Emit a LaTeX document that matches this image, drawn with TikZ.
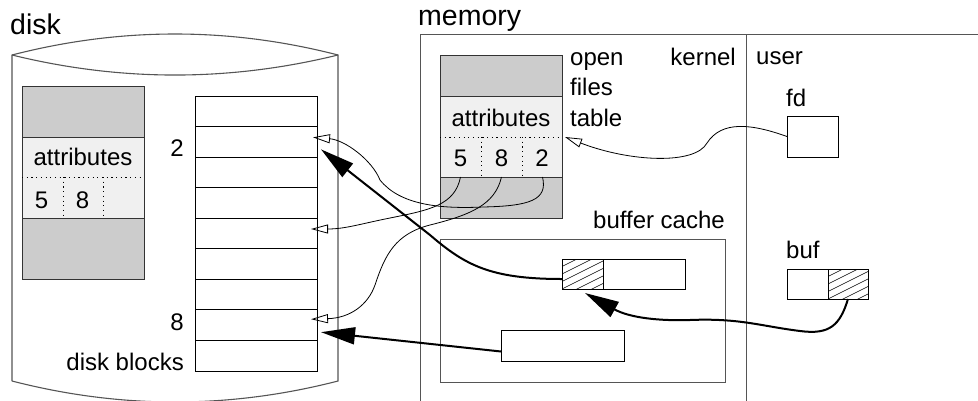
\documentclass[tikz,border=0pt]{standalone}
\usepackage{fontspec}
\setmainfont{Liberation Sans}
\usetikzlibrary{arrows.meta,calc}
\definecolor{shade}{HTML}{CCCCCC}
\definecolor{light}{HTML}{F0F0F0}
\definecolor{frame}{HTML}{555555}
\newcommand{\hatchit}[4]{%
  \begin{scope}
    \clip (#1,#2) rectangle (#3,#4);
    \foreach \c in {0,7.5,...,75}
      \draw[line width=0.6pt] (#1,#2+\c) -- ++(60,-30);
  \end{scope}}
\begin{document}
\begin{tikzpicture}[x=1pt,y=-1pt,
  box/.style={draw, line width=0.9pt, inner sep=0pt, outer sep=0pt, anchor=north west},
  cell/.style={inner sep=0pt, outer sep=0pt, anchor=north west},
  txt/.style={inner sep=0pt, font=\fontsize{24}{28}\selectfont},
  bigtxt/.style={inner sep=0pt, font=\fontsize{28.5}{32}\selectfont},
  thinarrow/.style={line width=0.8pt, -{Triangle[open,length=17pt,width=9pt]}},
  thickarrow/.style={line width=2pt, -{Triangle[length=34pt,width=17pt]}},
  dots/.style={line width=0.9pt, dash pattern=on 1.2pt off 3.5pt}
]
\useasboundingbox (0,0) rectangle (978,400);

% ---------- disk cylinder ----------
\draw[frame, line width=1.1pt]
  (12,381) -- (12,55) .. controls (120.7,27) and (229.3,27) .. (338,55) -- (338,381)
  .. controls (229.3,409) and (120.7,409) .. (12,381);
\draw[frame, line width=1.1pt] (12,55) .. controls (120.7,81.7) and (229.3,81.7) .. (338,55);
\node[bigtxt, anchor=base west] (disklbl) at (10,34) {disk};

% inode on disk
\node[box, draw=black!80, fill=shade, minimum width=122pt, minimum height=51pt] (ia) at (22,86) {};
\node[box, draw=black!80, fill=light, minimum width=122pt, minimum height=81pt] (ib) at (22,137) {};
\node[box, draw=black!80, fill=shade, minimum width=122pt, minimum height=61pt] (ic) at (22,218) {};
\draw[dots] (ib.west |- 0,177) -- (ib.east |- 0,177);
\draw[dots] (63,177) -- (63,218);
\draw[dots] (103,177) -- (103,218);
\node[txt, anchor=base] (iattr) at (83,165.7) {attributes};
\node[txt, anchor=base] (i5) at (41.5,208) {5};
\node[txt, anchor=base] (i8) at (82.5,208) {8};

% disk blocks
\foreach \i in {1,...,9}
  \node[box, minimum width=122pt, minimum height=30.556pt] (blk\i) at (195,{96+(\i-1)*30.556}) {};
\node[txt, anchor=base east] (b2lbl) at (184,156.7) {2};
\node[txt, anchor=base east] (b8lbl) at (184,330.7) {8};
\node[txt, anchor=base east] (blkslbl) at (184,370.7) {disk blocks};

% ---------- memory ----------
\node[box, draw=frame, minimum width=600pt, minimum height=400pt] (mem) at (420,34) {};
\draw[frame, line width=0.9pt] (746,34) -- (746,420);
\node[bigtxt, anchor=base west] (memlbl) at (418,25.5) {memory};
\node[txt, anchor=base west] (openlbl) at (570,65) {open};
\node[txt, anchor=base west] (fileslbl) at (570,95) {files};
\node[txt, anchor=base west] (tablelbl) at (570,126) {table};
\node[txt, anchor=base east] (kernlbl) at (736,65) {kernel};
\node[txt, anchor=base west] (userlbl) at (756,64) {user};

% open files table
\node[box, draw=black!80, fill=shade, minimum width=122pt, minimum height=41pt] (ta) at (440,55) {};
\node[box, draw=black!80, fill=light, minimum width=122pt, minimum height=81pt] (tb) at (440,96) {};
\node[box, draw=black!80, fill=shade, minimum width=122pt, minimum height=41pt] (tc) at (440,177) {};
\draw[dots] (440,137) -- (562,137);
\draw[dots] (481,137) -- (481,177);
\draw[dots] (522,137) -- (522,177);
\node[txt, anchor=base] (tattr) at (501,126) {attributes};
\node[cell, minimum width=41pt, minimum height=40pt] (c5) at (440,137) {};
\node[cell, minimum width=41pt, minimum height=40pt] (c8) at (481,137) {};
\node[cell, minimum width=41pt, minimum height=40pt] (c2) at (522,137) {};
\node[txt, anchor=base] (t5) at (460.5,166.7) {5};
\node[txt, anchor=base] (t8) at (501.5,166.7) {8};
\node[txt, anchor=base] (t2) at (542,166.7) {2};

% buffer cache
\node[box, draw=frame, minimum width=285pt, minimum height=143pt] (cache) at (440,239) {};
\node[txt, anchor=base east] (cachelbl) at (725,228) {buffer cache};
\node[box, minimum width=123pt, minimum height=30pt] (cb1) at (562,259) {};
\hatchit{562}{259}{603}{289}
\node[box, minimum width=41pt, minimum height=30pt] (cb1h) at (562,259) {};
\node[box, minimum width=123pt, minimum height=31pt] (cb2) at (501,330) {};

% user side
\node[box, minimum width=51pt, minimum height=41pt] (fd) at (787,116) {};
\node[txt, anchor=base west] (fdlbl) at (786,106) {fd};
\node[box, minimum width=41pt, minimum height=30pt] (bufl) at (787,269) {};
\hatchit{828}{269}{868}{299}
\node[box, minimum width=40pt, minimum height=30pt] (bufr) at (828,269) {};
\node[txt, anchor=base west] (buflbl) at (786,258) {buf};

% ---------- connectors ----------
\coordinate (tabtip) at ([xshift=3pt]tb.east |- 0,137);
\draw[thinarrow] (fd.west) .. controls (752,124) and (722,120) .. (707,143)
  .. controls (695,165) and (630,162) .. (tabtip);
\draw[thinarrow] (c2.south) .. controls (548,200) and (530,206) .. (483,207)
  .. controls (440,209) and (400,205) .. (380,180)
  .. controls (372,160) and (345,140) .. ([xshift=-4pt,yshift=4.5pt]blk2.east);
\draw[thinarrow] (c5.south) .. controls (455,205) and (430,210) .. (390,218)
  .. controls (360,224) and (345,229) .. ([xshift=-6pt,yshift=4.5pt]blk5.east);
\draw[thinarrow] (c8.south) .. controls (495,205) and (470,215) .. (430,225)
  .. controls (395,234) and (385,255) .. (375,285)
  .. controls (368,305) and (350,318) .. ([xshift=-6pt,yshift=6pt]blk8.east);
\draw[thickarrow] ([yshift=-5pt]cb1.west) .. controls (490,279) and (465,265) .. (430,235)
  -- ([xshift=4pt,yshift=-7.5pt]blk2.east);
\draw[thickarrow] ([yshift=-6pt]cb2.west) -- ([xshift=4pt,yshift=-7pt]blk8.east);
\draw[thickarrow] (bufr.south) .. controls (840,325) and (830,335) .. (800,331)
  .. controls (760,326) and (740,318) .. (690,320)
  .. controls (660,321) and (630,318) .. ([xshift=2.5pt,yshift=-4pt]cb1h.south);
\end{tikzpicture}
\end{document}
